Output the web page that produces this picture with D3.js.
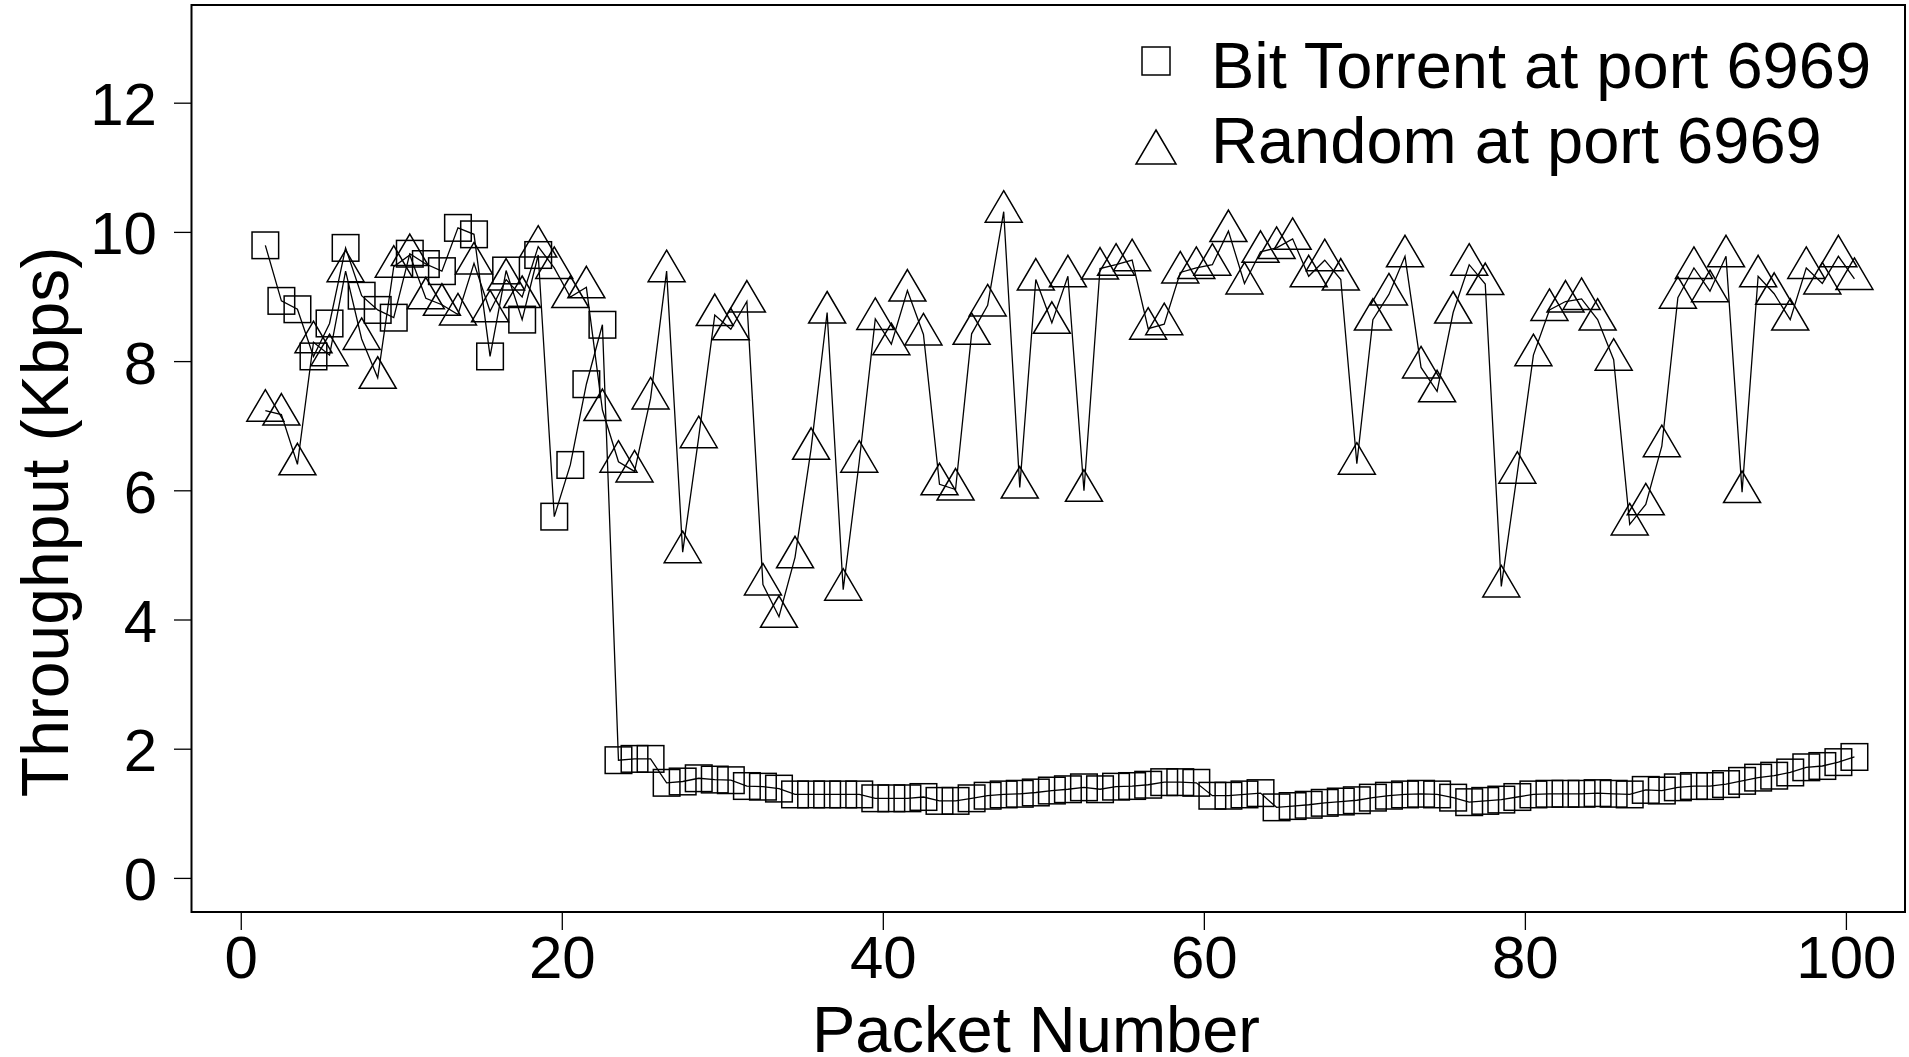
<!DOCTYPE html>
<html>
<head>
<meta charset="utf-8">
<script src="https://cdn.jsdelivr.net/npm/d3@7"></script>
<style>
  body { margin: 0; background: #fff; }
  svg { display: block; font-family: "Liberation Sans", Arial, sans-serif; }
</style>
</head>
<body>
<div id="chart"></div>
<script>
// packet numbers on the x axis
const packets = d3.range(1, 101);

// throughput (Kbps), Bit Torrent traffic at port 6969
const bitTorrent = [
  9.80, 8.94, 8.81, 8.08, 8.59, 9.76, 9.02, 8.80, 8.68, 9.67,
  9.51, 9.40, 10.07, 9.97, 8.08, 9.41, 8.65, 9.65, 5.60, 6.40,
  7.65, 8.57, 1.83, 1.85, 1.85, 1.48, 1.50, 1.55, 1.53, 1.52,
  1.43, 1.42, 1.39, 1.30, 1.30, 1.30, 1.30, 1.30, 1.24, 1.24,
  1.24, 1.26, 1.20, 1.20, 1.24, 1.28, 1.30, 1.31, 1.33, 1.36,
  1.38, 1.41, 1.38, 1.42, 1.43, 1.45, 1.49, 1.49, 1.48, 1.28,
  1.28, 1.30, 1.32, 1.10, 1.12, 1.14, 1.17, 1.19, 1.21, 1.25,
  1.28, 1.30, 1.31, 1.30, 1.25, 1.18, 1.20, 1.22, 1.26, 1.30,
  1.31, 1.31, 1.31, 1.32, 1.31, 1.30, 1.37, 1.36, 1.41, 1.43,
  1.43, 1.46, 1.51, 1.56, 1.59, 1.64, 1.72, 1.74, 1.80, 1.88
];

// throughput (Kbps), random traffic at port 6969
const randomTraffic = [
  7.24, 7.18, 6.41, 8.30, 8.10, 9.40, 8.35, 7.75, 9.47, 9.65,
  8.98, 8.88, 8.73, 9.52, 8.78, 9.27, 9.00, 9.78, 9.45, 9.00,
  9.15, 7.25, 6.45, 6.30, 7.43, 9.40, 5.05, 6.83, 8.72, 8.50,
  8.93, 4.55, 4.05, 4.97, 6.65, 8.76, 4.47, 6.45, 8.66, 8.27,
  9.10, 8.42, 6.10, 6.02, 8.43, 8.87, 10.32, 6.05, 9.27, 8.60,
  9.32, 6.00, 9.44, 9.50, 9.57, 8.51, 8.58, 9.38, 9.45, 9.50,
  10.02, 9.21, 9.70, 9.76, 9.90, 9.32, 9.57, 9.27, 6.42, 8.65,
  9.04, 9.63, 7.91, 7.54, 8.76, 9.50, 9.20, 4.52, 6.28, 8.10,
  8.80, 8.93, 8.97, 8.65, 8.03, 5.48, 5.79, 6.69, 8.99, 9.45,
  9.09, 9.63, 5.98, 9.32, 9.05, 8.65, 9.45, 9.21, 9.63, 9.28
];

const xTicks = [0, 20, 40, 60, 80, 100];
const yTicks = [0, 2, 4, 6, 8, 10, 12];
const seriesNames = ["Bit Torrent at port 6969", "Random at port 6969"];

const W = 1909, H = 1057;
const plot = { left: 191.5, right: 1905, top: 5, bottom: 912 };

const svg = d3.select("#chart").append("svg")
  .attr("width", W)
  .attr("height", H);

const x = d3.scaleLinear().domain([-3.1, 103.65]).range([plot.left, plot.right]);
const y = d3.scaleLinear().domain([-0.52, 13.52]).range([plot.bottom, plot.top]);

// points sit slightly right of the integer packet positions in the original
const xShift = 0.5;

// ticks and labels
svg.append("g").selectAll("line")
  .data(yTicks)
  .join("line")
  .attr("x1", plot.left - 17.5).attr("x2", plot.left)
  .attr("y1", d => y(d)).attr("y2", d => y(d))
  .attr("stroke", "#000").attr("stroke-width", 1.3);

svg.append("g").selectAll("text")
  .data(yTicks)
  .join("text")
  .attr("x", 157)
  .attr("y", d => y(d) + 22)
  .attr("text-anchor", "end")
  .style("font-size", "60px")
  .text(d => d);

svg.append("g").selectAll("line")
  .data(xTicks)
  .join("line")
  .attr("x1", d => x(d)).attr("x2", d => x(d))
  .attr("y1", plot.bottom).attr("y2", plot.bottom + 18)
  .attr("stroke", "#000").attr("stroke-width", 1.3);

svg.append("g").selectAll("text")
  .data(xTicks)
  .join("text")
  .attr("x", d => x(d))
  .attr("y", 978)
  .attr("text-anchor", "middle")
  .style("font-size", "60px")
  .text(d => d);

svg.append("text")
  .attr("x", 1036)
  .attr("y", 1052)
  .attr("text-anchor", "middle")
  .style("font-size", "65px")
  .text("Packet Number");

svg.append("text")
  .attr("transform", "translate(68,522) rotate(-90)")
  .attr("text-anchor", "middle")
  .style("font-size", "66px")
  .text("Throughput (Kbps)");

// series
const line = d3.line()
  .x((d, i) => x(packets[i] + xShift))
  .y(d => y(d));

const sqHalf = 13.3;
const triPath = "M0,-21 L18.5,10.5 L-18.5,10.5 Z";

function drawSeries(values, marker) {
  const g = svg.append("g");
  g.append("path")
    .datum(values)
    .attr("d", line)
    .attr("fill", "none")
    .attr("stroke", "#000")
    .attr("stroke-width", 1.3);

  const pts = g.selectAll("g.pt")
    .data(values)
    .join("g")
    .attr("class", "pt")
    .attr("transform", (d, i) => `translate(${x(packets[i] + xShift)},${y(d)})`);

  if (marker === "square") {
    pts.append("rect")
      .attr("x", -sqHalf).attr("y", -sqHalf)
      .attr("width", sqHalf * 2).attr("height", sqHalf * 2)
      .attr("fill", "none").attr("stroke", "#000").attr("stroke-width", 1.5);
  } else {
    pts.append("path")
      .attr("d", triPath)
      .attr("fill", "none").attr("stroke", "#000").attr("stroke-width", 1.5);
  }
}

drawSeries(bitTorrent, "square");
drawSeries(randomTraffic, "triangle");

// frame
svg.append("rect")
  .attr("x", plot.left).attr("y", plot.top)
  .attr("width", plot.right - plot.left)
  .attr("height", plot.bottom - plot.top)
  .attr("fill", "none")
  .attr("stroke", "#000")
  .attr("stroke-width", 2);

// legend
const legend = svg.append("g");
legend.append("rect")
  .attr("x", 1156 - 14).attr("y", 61 - 14)
  .attr("width", 28).attr("height", 28)
  .attr("fill", "none").attr("stroke", "#000").attr("stroke-width", 1.5);
legend.append("path")
  .attr("transform", "translate(1156,152)")
  .attr("d", "M0,-22 L20,12 L-20,12 Z")
  .attr("fill", "none").attr("stroke", "#000").attr("stroke-width", 1.5);

legend.selectAll("text")
  .data(seriesNames)
  .join("text")
  .attr("x", 1211)
  .attr("y", (d, i) => 88 + i * 75)
  .style("font-size", "65px")
  .text(d => d);
</script>
</body>
</html>
